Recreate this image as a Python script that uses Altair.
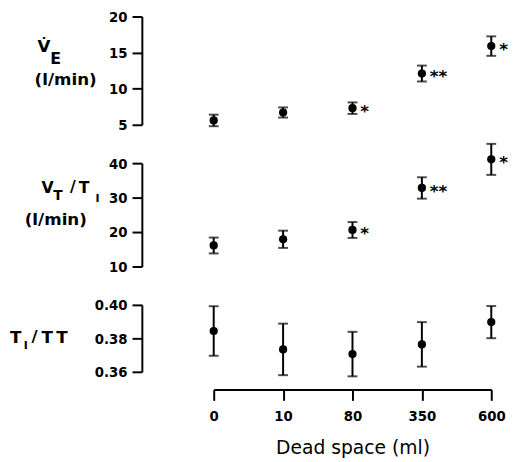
import altair as alt
import pandas as pd

dead = ["0", "10", "80", "350", "600"]

ve_mean = [5.6, 6.7, 7.3, 12.1, 15.9]
ve_err = [0.8, 0.7, 0.8, 1.1, 1.35]
ve_star = ["", "", "*", "**", "*"]

vt_mean = [16.1, 17.9, 20.6, 32.8, 41.1]
vt_err = [2.3, 2.5, 2.3, 3.1, 4.5]
vt_star = ["", "", "*", "**", "*"]

ti_mean = [0.3844, 0.3734, 0.3706, 0.3764, 0.3897]
ti_err = [0.0148, 0.0154, 0.0133, 0.0133, 0.0096]
ti_star = ["", "", "", "", ""]

ve_ticks = [5, 10, 15, 20]
vt_ticks = [10, 20, 30, 40]
ti_ticks = [0.36, 0.38, 0.40]

FONT = "DejaVu Sans Condensed, DejaVu Sans"
LFONT = "DejaVu Sans"
W = 282


def frame(mean, err, star):
    return pd.DataFrame({
        "dead": dead,
        "mean": mean,
        "lo": [m - e for m, e in zip(mean, err)],
        "hi": [m + e for m, e in zip(mean, err)],
        "star": star,
    })


def panel(df, domain, ticks, height, labels, fmt, show_x):
    if show_x:
        xaxis = alt.Axis(title="Dead space (ml)", labelAngle=0, offset=18,
                         tickSize=11, tickWidth=2, domainWidth=2,
                         domainColor="black", tickColor="black",
                         labelColor="black", labelFont=FONT, labelFontSize=15,
                         labelFontWeight="bold", labelPadding=8,
                         titleFont=LFONT, titleFontSize=19,
                         titleFontWeight="normal", titleColor="black",
                         titlePadding=16)
    else:
        xaxis = None
    x = alt.X("dead:O", sort=dead, scale=alt.Scale(type="point", padding=0),
              axis=xaxis)
    yscale = alt.Scale(domain=domain, nice=False, zero=False)
    yaxis = alt.Axis(title=None, values=ticks, format=fmt, offset=73,
                     grid=False, tickSize=10, tickWidth=2, domainWidth=2,
                     domainColor="black", tickColor="black",
                     labelColor="black", labelFont=FONT, labelFontSize=15,
                     labelFontWeight="bold", labelPadding=5,
                     labelOverlap=False)

    def Y(field):
        return alt.Y(field, type="quantitative", scale=yscale, axis=yaxis,
                     title=None)

    base = alt.Chart(df)
    bars = base.mark_rule(color="black", strokeWidth=2).encode(
        x=x, y=Y("lo"), y2="hi:Q")
    cap_lo = base.mark_tick(color="black", thickness=2, size=10).encode(
        x=x, y=Y("lo"))
    cap_hi = base.mark_tick(color="black", thickness=2, size=10).encode(
        x=x, y=Y("hi"))
    pts = base.mark_circle(color="black", size=70, opacity=1).encode(
        x=x, y=Y("mean"))
    stars = base.mark_text(align="left", baseline="middle", dx=8, dy=4,
                           fontSize=17, fontWeight="bold", color="black",
                           font=LFONT).encode(
        x=x, y=Y("mean"), text="star:N")
    layers = [bars, cap_lo, cap_hi, pts, stars]
    for txt, lx, ly, size in labels:
        layers.append(
            alt.Chart(pd.DataFrame({"t": [txt]})).mark_text(
                align="left", baseline="middle", fontSize=size,
                fontWeight="bold", color="black", font=LFONT).encode(
                x=alt.value(lx), y=alt.value(ly), text="t:N"))
    return alt.layer(*layers).properties(width=W, height=height)


# panel-label annotations: (text, left x, centre y, font size), plot-relative
p1 = panel(frame(ve_mean, ve_err, ve_star), [5, 20], ve_ticks, 110,
           [("V\u0307", -179, 31, 17), ("E", -166, 43, 16),
            ("(l/min)", -182, 65, 17)], "d", False)
p2 = panel(frame(vt_mean, vt_err, vt_star), [10, 40], vt_ticks, 105,
           [("V", -175, 25, 16), ("T", -163, 33, 14), ("/", -146, 24, 16),
            ("T", -137, 25, 16), ("I", -120, 36, 11),
            ("(l/min)", -192, 58, 17)], "d", False)
p3 = panel(frame(ti_mean, ti_err, ti_star), [0.36, 0.40], ti_ticks, 68,
           [("T", -207, 34, 17), ("I", -193, 42, 11), ("/", -185, 33, 17),
            ("T", -175, 34, 17), ("T", -160, 34, 17)],
           ".2f", True)

chart = alt.vconcat(p1, p2, p3, spacing=39, bounds="flush").properties(
    padding={"left": 2, "top": -2, "right": 0, "bottom": 2}
).configure_view(stroke=None)

chart.save("out.html", embed_options={"renderer": "svg", "actions": False})
